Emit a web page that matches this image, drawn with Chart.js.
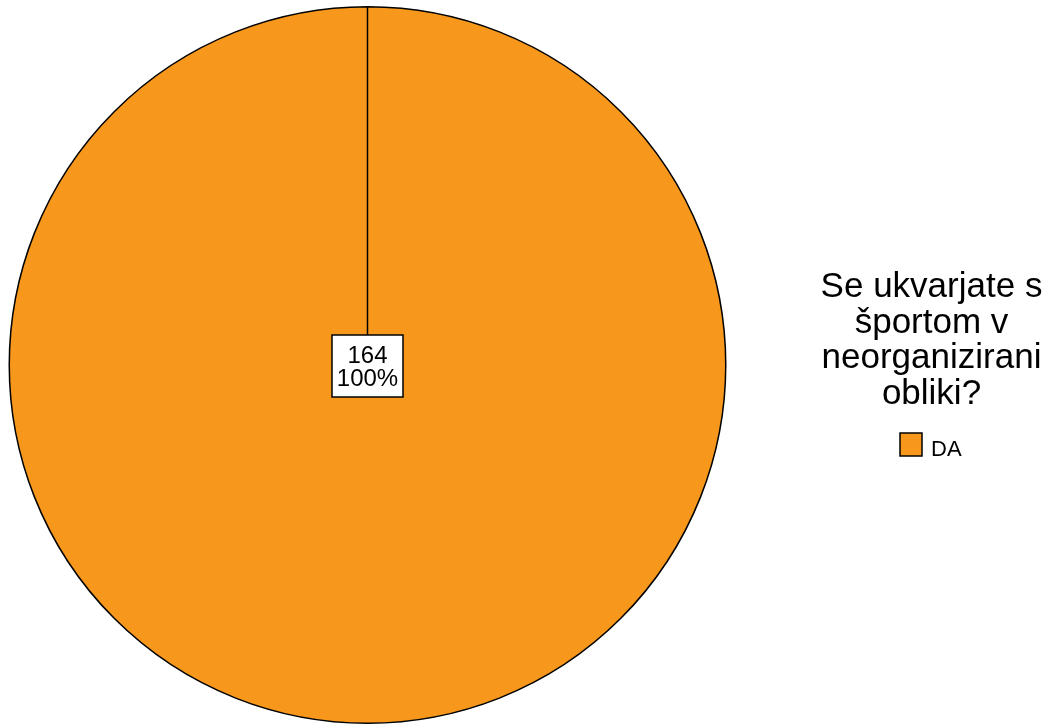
<!DOCTYPE html>
<html>
<head>
<meta charset="utf-8">
<script src="https://cdn.jsdelivr.net/npm/chart.js@4"></script>
<style>
  html, body { margin: 0; padding: 0; background: #fff; }
  #wrap { width: 1047px; height: 724px; }
</style>
</head>
<body>
<div id="wrap"><canvas id="pie" width="1047" height="724"></canvas></div>
<script>
const categories = ['DA'];
const counts = [164];
const percents = ['100%'];
const legendTitle = ['Se ukvarjate s', 'športom v', 'neorganizirani', 'obliki?'];
const sliceColors = ['#F7981D'];

const FONT = '"Liberation Sans", Arial, sans-serif';

// white boxed count/percent label in the middle of each slice
const sliceLabels = {
    id: 'sliceLabels',
    afterDatasetsDraw(chart) {
        const ctx = chart.ctx;
        const meta = chart.getDatasetMeta(0);
        meta.data.forEach((arc, i) => {
            const pos = counts.length === 1 ? { x: arc.x, y: arc.y } : arc.tooltipPosition();
            const w = 71, h = 62;
            const x0 = pos.x - w / 2, y0 = pos.y - h / 2 + 1;
            ctx.save();
            ctx.fillStyle = '#fff';
            ctx.strokeStyle = '#000';
            ctx.lineWidth = 1.5;
            ctx.fillRect(x0, y0, w, h);
            ctx.strokeRect(x0, y0, w, h);
            ctx.fillStyle = '#000';
            ctx.font = '24px ' + FONT;
            ctx.textAlign = 'center';
            ctx.textBaseline = 'alphabetic';
            ctx.fillText(String(counts[i]), pos.x, y0 + 28);
            ctx.fillText(percents[i], pos.x, y0 + 51);
            ctx.restore();
        });
    }
};

// legend on the right: multi-line title plus swatches
const sideLegend = {
    id: 'sideLegend',
    afterDraw(chart) {
        const ctx = chart.ctx;
        const cx = 931.5;
        ctx.save();
        ctx.fillStyle = '#000';
        ctx.font = '35px ' + FONT;
        ctx.textAlign = 'center';
        ctx.textBaseline = 'alphabetic';
        legendTitle.forEach((line, i) => ctx.fillText(line, cx, 297 + i * 35.5));
        categories.forEach((cat, i) => {
            const y = 433 + i * 30;
            ctx.fillStyle = sliceColors[i];
            ctx.fillRect(900, y, 22, 23);
            ctx.strokeStyle = '#000';
            ctx.lineWidth = 1.5;
            ctx.strokeRect(900, y, 22, 23);
            ctx.fillStyle = '#000';
            ctx.font = '22px ' + FONT;
            ctx.textAlign = 'left';
            ctx.fillText(cat, 931, y + 23);
        });
        ctx.restore();
    }
};

new Chart(document.getElementById('pie'), {
    type: 'pie',
    data: {
        labels: categories,
        datasets: [{
            data: counts,
            backgroundColor: sliceColors,
            borderColor: '#000',
            borderWidth: 1.5
        }]
    },
    options: {
        responsive: false,
        animation: false,
        layout: { padding: { left: 8, top: 6, right: 320, bottom: 0 } },
        plugins: { legend: { display: false }, tooltip: { enabled: false } }
    },
    plugins: [sliceLabels, sideLegend]
});
</script>
</body>
</html>
